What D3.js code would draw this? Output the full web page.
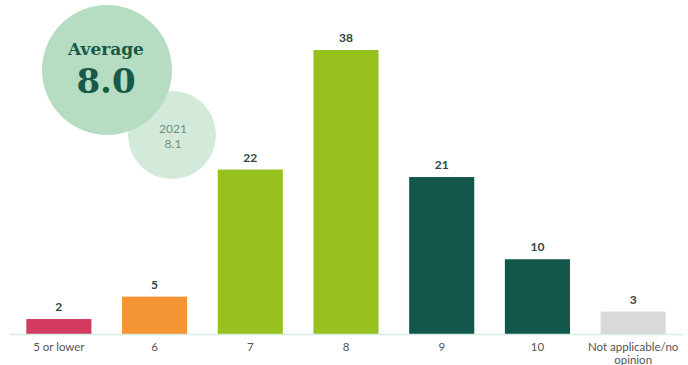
<!DOCTYPE html>
<html>
<head>
<meta charset="utf-8">
<script src="https://cdn.jsdelivr.net/npm/d3@7"></script>
<style>
    html, body { margin: 0; padding: 0; background: #fff; }
    svg { display: block; }
</style>
</head>
<body>
<svg id="chart"></svg>
<script>
// Data.
const categories = ["5 or lower", "6", "7", "8", "9", "10", "Not applicable/no opinion"];
const shares = [2, 5, 22, 38, 21, 10, 3];
const barColors = ["#d33a5f", "#f39532", "#97c11f", "#97c11f", "#12574a", "#12574a", "#d9d9d9"];
const averageNow = "8.0";
const averagePrev = { year: "2021", value: "8.1" };

const width = 688,
    height = 365,
    baseline = 334;

const svg = d3.select("#chart")
    .attr("width", width)
    .attr("height", height);

// Band scale for the categories, linear for the shares.
const x = d3.scaleBand()
    .domain(categories)
    .range([11, 681])
    .paddingInner(0.32)
    .paddingOuter(0.16);

const y = d3.scaleLinear()
    .domain([0, 38])
    .range([baseline, 50]);

// Bubbles with the averages, small one behind the big one.
const bubbles = svg.append("g").attr("class", "bubbles");

bubbles.append("circle")
    .attr("cx", 172).attr("cy", 135).attr("r", 44)
    .attr("fill", "#d3eadb");

bubbles.append("circle")
    .attr("cx", 107).attr("cy", 70).attr("r", 65)
    .attr("fill", "#b6dcc1");

bubbles.append("text")
    .attr("x", 106).attr("y", 55)
    .attr("text-anchor", "middle")
    .attr("font-family", "DejaVu Serif")
    .attr("font-weight", "bold")
    .attr("font-size", 17)
    .attr("fill", "#175846")
    .text("Average");

bubbles.append("text")
    .attr("x", 106).attr("y", 93)
    .attr("text-anchor", "middle")
    .attr("font-family", "DejaVu Serif")
    .attr("font-weight", "bold")
    .attr("font-size", 34)
    .attr("fill", "#175846")
    .text(averageNow);

bubbles.append("text")
    .attr("x", 173).attr("y", 133)
    .attr("text-anchor", "middle")
    .attr("font-family", "Lato")
    .attr("font-size", 12)
    .attr("fill", "#6f8f83")
    .text(averagePrev.year);

bubbles.append("text")
    .attr("x", 173).attr("y", 148)
    .attr("text-anchor", "middle")
    .attr("font-family", "Lato")
    .attr("font-size", 12)
    .attr("fill", "#6f8f83")
    .text(averagePrev.value);

// Bars.
svg.append("g")
    .attr("class", "bars")
    .selectAll("rect")
    .data(shares)
    .enter()
    .append("rect")
    .attr("x", (d, i) => x(categories[i]))
    .attr("y", (d) => y(d))
    .attr("width", x.bandwidth())
    .attr("height", (d) => baseline - y(d))
    .attr("fill", (d, i) => barColors[i]);

// Value labels above the bars.
svg.append("g")
    .attr("class", "values")
    .selectAll("text")
    .data(shares)
    .enter()
    .append("text")
    .attr("x", (d, i) => x(categories[i]) + x.bandwidth() / 2)
    .attr("y", (d) => y(d) - 8)
    .attr("text-anchor", "middle")
    .attr("font-family", "Lato")
    .attr("font-weight", "bold")
    .attr("font-size", 12)
    .attr("fill", "#2c4742")
    .text((d) => d);

// Baseline.
svg.append("line")
    .attr("x1", 10).attr("x2", 683)
    .attr("y1", baseline + 0.5).attr("y2", baseline + 0.5)
    .attr("stroke", "#d5eee5")
    .attr("stroke-width", 1.5);

// Category labels through the axis, long one wrapped on two lines.
const axis = svg.append("g")
    .attr("transform", `translate(0,${baseline})`)
    .call(d3.axisBottom(x).tickSize(0).tickPadding(9));

axis.select(".domain").remove();

axis.selectAll("text")
    .attr("font-family", "Lato")
    .attr("font-size", 11.5)
    .attr("fill", "#555")
    .each(function(d) {
        if (d.length > 12) {
            const t = d3.select(this),
                words = ["Not applicable/no", "opinion"];
            t.text(null);
            words.forEach((w, i) => {
                t.append("tspan")
                    .attr("x", 0)
                    .attr("dy", i == 0 ? "0.71em" : "1.1em")
                    .text(w);
            });
            t.attr("dy", null);
        }
    });
</script>
</body>
</html>
